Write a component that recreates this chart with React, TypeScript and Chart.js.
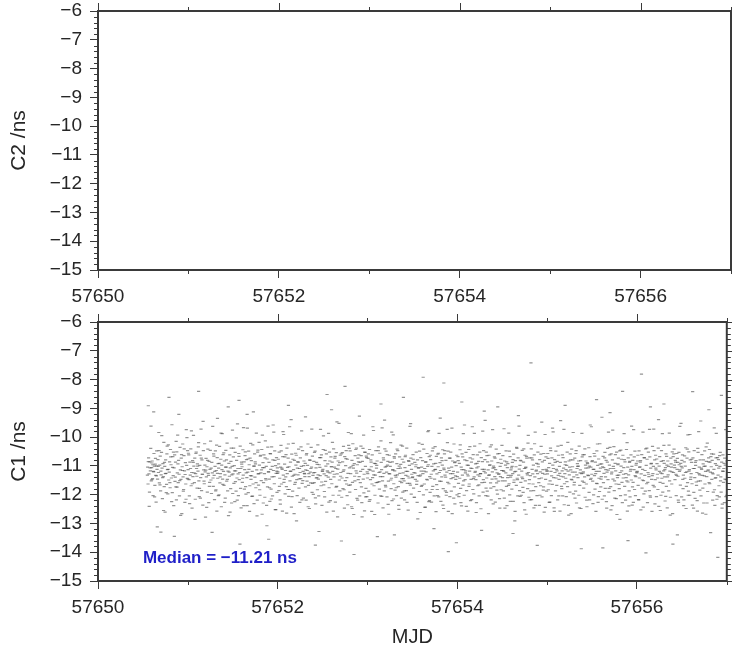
import { useEffect, useRef } from "react";
import { Chart, registerables } from "chart.js";

Chart.register(...registerables);

const X_MIN = 57650;
const X_MAX = 57657;
const Y_MIN = -15;
const Y_MAX = -6;
const X_TICKS = [57650, 57652, 57654, 57656];
const X_MINOR = [57651, 57653, 57655, 57657];
const Y_TICKS = [-6, -7, -8, -9, -10, -11, -12, -13, -14, -15];
const TOP_TITLE = "C2 /ns";
const BOTTOM_TITLE = "C1 /ns";
const X_TITLE = "MJD";
const MEDIAN_LABEL = "Median = \u221211.21 ns";
const MEDIAN_POS = [57650.5, -14.2];

// C2 has no samples in this interval
const c2Points: [number, number][] = [];

// C1 samples: [fraction of day, ns]; day start MJD in DAY_BASES
const DAY_BASES = [57650, 57651, 57652, 57653, 57654, 57655, 57656];

const c1Day0a: [number, number][] = [
  [.55,-11.32],[.56,-10.85],[.57,-12.41],[.58,-11.07],[.59,-9.62],[.60,-11.48],[.61,-10.96],[.62,-11.21],[.63,-12.08],[.64,-10.74],
  [.65,-11.35],[.66,-13.12],[.67,-11.02],[.68,-10.47],[.69,-11.66],[.70,-11.18],[.71,-9.95],[.72,-11.41],[.73,-12.55],[.74,-10.88],
  [.75,-11.27],[.76,-11.93],[.77,-10.31],[.78,-11.12],[.79,-8.62],[.80,-11.58],[.81,-10.69],[.82,-12.24],[.83,-11.05],[.84,-10.52],
  [.85,-13.45],[.86,-11.39],[.87,-10.15],[.88,-11.74],[.89,-10.93],[.90,-9.21],[.91,-11.51],[.92,-12.72],[.93,-10.61],[.94,-11.16],
  [.95,-11.88],[.96,-10.41],[.97,-11.30],[.98,-12.16],[.99,-10.02],[.56,-8.91],[.62,-9.12],[.70,-13.3],[.60,-10.9],[.65,-11.0],
];
const c1Day0b: [number, number][] = [
  [.553,-11.04],[.557,-11.63],[.563,-10.72],[.567,-11.28],[.573,-11.91],[.577,-10.86],[.583,-11.17],[.587,-10.39],[.593,-11.52],[.597,-11.06],
  [.603,-10.83],[.607,-11.44],[.613,-12.03],[.617,-11.19],[.623,-10.57],[.627,-11.01],[.633,-11.68],[.637,-10.94],[.643,-11.33],[.647,-12.26],
  [.653,-10.48],[.657,-11.12],[.663,-11.46],[.667,-10.78],[.673,-11.23],[.677,-9.84],[.683,-11.59],[.687,-10.97],[.693,-10.66],[.697,-11.87],
  [.703,-11.31],[.707,-10.53],[.713,-11.08],[.717,-12.14],[.723,-10.92],[.727,-11.37],[.733,-10.18],[.737,-11.72],[.743,-11.02],[.747,-12.61],
  [.753,-10.79],[.757,-11.26],[.763,-11.64],[.767,-10.58],[.773,-11.13],[.777,-11.97],[.783,-10.27],[.787,-11.49],[.793,-11.22],[.797,-10.86],
  [.803,-11.76],[.807,-10.43],[.813,-10.96],[.817,-11.42],[.823,-9.57],[.827,-11.93],[.833,-10.68],[.837,-11.34],[.843,-12.38],[.847,-11.07],
  [.853,-10.62],[.857,-11.54],[.863,-10.87],[.867,-11.73],[.873,-12.18],[.877,-10.51],[.883,-11.24],[.887,-9.93],[.893,-11.58],[.897,-10.81],
  [.903,-11.29],[.907,-12.04],[.913,-10.36],[.917,-11.14],[.923,-11.47],[.927,-10.73],[.933,-12.66],[.937,-11.03],[.943,-10.24],[.947,-11.38],
  [.953,-11.82],[.957,-10.64],[.963,-11.17],[.967,-12.27],[.973,-10.89],[.977,-11.63],[.983,-9.74],[.987,-10.98],[.993,-11.43],[.997,-10.47],
];

const c1Day1a: [number, number][] = [
  [.00,-11.45],[.01,-10.62],[.02,-12.31],[.03,-11.09],[.04,-9.78],[.05,-11.62],[.06,-10.88],[.07,-11.24],[.08,-12.86],[.09,-10.57],
  [.10,-11.36],[.11,-11.01],[.12,-10.19],[.13,-11.78],[.14,-12.12],[.15,-10.73],[.16,-11.29],[.17,-9.45],[.18,-11.53],[.19,-10.97],
  [.20,-11.15],[.21,-12.44],[.22,-10.81],[.23,-11.33],[.24,-11.71],[.25,-10.46],[.26,-11.08],[.27,-13.31],[.28,-11.42],[.29,-10.66],
  [.30,-11.19],[.31,-11.87],[.32,-10.28],[.33,-11.26],[.34,-12.03],[.35,-10.91],[.36,-11.38],[.37,-9.86],[.38,-11.13],[.39,-11.64],
  [.40,-10.55],[.41,-12.27],[.42,-11.04],[.43,-10.79],[.44,-11.47],[.45,-8.95],[.46,-11.22],[.47,-12.61],[.48,-10.84],[.49,-11.31],
  [.50,-11.96],[.51,-10.38],[.52,-11.17],[.53,-11.55],[.54,-10.03],[.55,-12.19],[.56,-11.28],[.57,-10.67],[.58,-13.72],[.59,-11.09],
  [.60,-10.94],[.61,-11.43],[.62,-9.67],[.63,-11.81],[.64,-10.51],[.65,-11.24],[.66,-12.38],[.67,-10.76],[.68,-11.12],[.69,-11.69],
  [.70,-10.22],[.71,-11.35],[.72,-12.05],[.73,-9.12],[.74,-11.01],[.75,-10.86],[.76,-11.58],[.77,-12.74],[.78,-10.45],[.79,-11.27],
  [.80,-11.83],[.81,-10.63],[.82,-11.14],[.83,-9.93],[.84,-12.29],[.85,-11.06],[.86,-10.72],[.87,-11.49],[.88,-13.08],[.89,-10.35],
  [.90,-11.21],[.91,-11.76],[.92,-10.58],[.93,-12.15],[.94,-11.02],[.95,-9.58],[.96,-11.37],[.97,-10.81],[.98,-12.52],[.99,-11.18],
  [.12,-8.41],[.57,-8.72],[.90,-13.55],[.33,-9.35],[.66,-9.21],
];
const c1Day1b: [number, number][] = [
  [.003,-11.13],[.007,-10.56],[.013,-11.48],[.017,-12.04],[.023,-10.87],[.027,-11.32],[.033,-10.41],[.037,-11.69],[.043,-11.23],[.047,-12.47],[.053,-10.82],[.057,-11.37],[.063,-9.94],[.067,-11.01],[.073,-11.58],[.077,-10.73],[.083,-12.16],[.087,-11.27],[.093,-10.52],[.097,-11.09],
  [.103,-11.77],[.107,-10.93],[.113,-11.18],[.117,-10.34],[.123,-11.52],[.127,-12.07],[.133,-10.98],[.137,-10.63],[.143,-11.41],[.147,-9.72],[.153,-11.86],[.157,-10.79],[.163,-11.29],[.167,-12.36],[.173,-10.47],[.177,-11.14],[.183,-11.62],[.187,-10.23],[.193,-11.21],[.197,-12.78],
  [.203,-10.74],[.207,-11.38],[.213,-11.03],[.217,-11.91],[.223,-10.42],[.227,-11.26],[.233,-12.28],[.237,-10.84],[.243,-11.57],[.247,-11.12],[.253,-10.14],[.257,-11.49],[.263,-11.96],[.267,-10.88],[.273,-11.24],[.277,-9.63],[.283,-11.71],[.287,-10.58],[.293,-11.33],[.297,-12.17],
  [.303,-11.02],[.307,-10.48],[.313,-11.83],[.317,-11.16],[.323,-12.57],[.327,-10.71],[.333,-11.43],[.337,-10.92],[.343,-11.08],[.347,-12.01],[.353,-10.32],[.357,-11.59],[.363,-11.27],[.367,-10.77],[.373,-12.42],[.377,-10.97],[.383,-9.88],[.387,-11.46],[.393,-10.61],[.397,-11.19],
  [.403,-11.68],[.407,-10.83],[.413,-11.31],[.417,-12.12],[.423,-10.46],[.427,-11.04],[.433,-11.53],[.437,-10.21],[.443,-11.87],[.447,-11.18],[.453,-12.73],[.457,-10.91],[.463,-11.36],[.467,-10.62],[.473,-11.07],[.477,-11.79],[.483,-10.38],[.487,-12.29],[.493,-11.02],[.497,-9.76],
  [.503,-11.28],[.507,-10.69],[.513,-11.61],[.517,-10.99],[.523,-12.24],[.527,-10.53],[.533,-11.17],[.537,-11.88],[.543,-10.81],[.547,-11.42],[.553,-9.54],[.557,-11.09],[.563,-12.03],[.567,-10.57],[.573,-11.48],[.577,-11.23],[.583,-10.31],[.587,-11.78],[.593,-12.46],[.597,-10.87],
  [.603,-11.03],[.607,-11.57],[.613,-10.44],[.617,-11.32],[.623,-12.38],[.627,-10.86],[.633,-11.13],[.637,-10.64],[.643,-11.72],[.647,-11.98],[.653,-10.78],[.657,-11.41],[.663,-9.69],[.667,-11.22],[.673,-11.93],[.677,-10.49],[.683,-10.96],[.687,-12.58],[.693,-10.73],[.697,-11.34],
  [.703,-11.47],[.707,-10.82],[.713,-12.06],[.717,-11.19],[.723,-10.27],[.727,-11.63],[.733,-11.01],[.737,-12.31],[.743,-10.58],[.747,-11.39],[.753,-10.93],[.757,-11.76],[.763,-9.86],[.767,-11.14],[.773,-12.19],[.777,-10.52],[.783,-11.28],[.787,-11.67],[.793,-10.18],[.797,-10.97],
  [.803,-12.02],[.807,-10.66],[.813,-11.24],[.817,-11.51],[.823,-10.43],[.827,-12.68],[.833,-11.06],[.837,-10.89],[.843,-11.58],[.847,-10.62],[.853,-11.27],[.857,-12.09],[.863,-10.13],[.867,-11.44],[.873,-11.02],[.877,-12.37],[.883,-10.76],[.887,-11.73],[.893,-9.62],[.897,-11.21],
  [.903,-10.88],[.907,-11.46],[.913,-12.23],[.917,-10.57],[.923,-11.12],[.927,-11.81],[.933,-10.34],[.937,-11.38],[.943,-12.04],[.947,-10.79],[.953,-11.16],[.957,-9.83],[.963,-11.62],[.967,-10.48],[.973,-12.52],[.977,-10.99],[.983,-11.26],[.987,-10.71],[.993,-11.92],[.997,-11.07],
];

const c1Day2a: [number, number][] = [
  [.00,-11.26],[.01,-10.93],[.02,-11.71],[.03,-12.33],[.04,-10.48],[.05,-11.12],[.06,-9.81],[.07,-11.57],[.08,-10.69],[.09,-11.38],
  [.10,-12.64],[.11,-11.05],[.12,-10.24],[.13,-11.82],[.14,-11.19],[.15,-9.39],[.16,-12.07],[.17,-10.77],[.18,-11.33],[.19,-11.64],
  [.20,-10.56],[.21,-12.91],[.22,-11.08],[.23,-10.87],[.24,-11.45],[.25,-11.23],[.26,-10.34],[.27,-12.18],[.28,-11.51],[.29,-10.99],
  [.30,-11.28],[.31,-11.73],[.32,-10.62],[.33,-11.16],[.34,-12.42],[.35,-11.37],[.36,-10.81],[.37,-11.09],[.38,-9.72],[.39,-11.61],
  [.40,-11.24],[.41,-10.53],[.42,-12.11],[.43,-11.42],[.44,-10.95],[.45,-11.31],[.46,-13.28],[.47,-11.05],[.48,-10.71],[.49,-11.56],
  [.50,-11.18],[.51,-9.96],[.52,-11.89],[.53,-10.46],[.54,-11.34],[.55,-8.52],[.56,-11.22],[.57,-12.26],[.58,-10.83],[.59,-11.47],
  [.60,-11.03],[.61,-10.18],[.62,-12.57],[.63,-11.29],[.64,-10.67],[.65,-11.74],[.66,-9.47],[.67,-11.11],[.68,-12.02],[.69,-10.89],
  [.70,-11.36],[.71,-13.61],[.72,-10.54],[.73,-11.19],[.74,-11.83],[.75,-8.24],[.76,-10.75],[.77,-11.41],[.78,-12.35],[.79,-10.29],
  [.80,-11.07],[.81,-11.66],[.82,-9.88],[.83,-12.48],[.84,-10.98],[.85,-14.08],[.86,-11.52],[.87,-10.43],[.88,-11.25],[.89,-12.19],
  [.90,-10.86],[.91,-9.27],[.92,-11.58],[.93,-10.64],[.94,-12.77],[.95,-10.39],[.96,-11.94],[.97,-10.52],[.98,-12.08],[.99,-10.71],
  [.12,-8.90],[.42,-13.75],[.60,-9.05],[.31,-9.30],
];
const c1Day2b: [number, number][] = [
  [.003,-11.21],[.007,-10.77],[.013,-11.86],[.017,-10.52],[.023,-11.43],[.027,-12.18],[.033,-11.04],[.037,-10.29],[.043,-11.63],[.047,-11.08],[.053,-12.57],[.057,-10.68],[.063,-11.32],[.067,-9.91],[.073,-11.47],[.077,-10.94],[.083,-11.97],[.087,-11.16],[.093,-10.61],[.097,-11.72],
  [.103,-10.38],[.107,-11.27],[.113,-11.82],[.117,-10.73],[.123,-12.06],[.127,-11.03],[.133,-9.64],[.137,-11.52],[.143,-10.87],[.147,-11.18],[.153,-12.43],[.157,-10.59],[.163,-11.36],[.167,-11.88],[.173,-10.22],[.177,-11.13],[.183,-12.66],[.187,-10.81],[.193,-11.29],[.197,-11.57],
  [.203,-10.97],[.207,-10.63],[.213,-11.48],[.217,-12.03],[.223,-10.86],[.227,-11.31],[.233,-10.42],[.237,-11.77],[.243,-11.09],[.247,-12.27],[.253,-10.72],[.257,-11.44],[.263,-11.02],[.267,-9.78],[.273,-11.61],[.277,-10.47],[.283,-11.19],[.287,-12.12],[.293,-10.83],[.297,-11.26],
  [.303,-11.37],[.307,-10.91],[.313,-11.14],[.317,-12.19],[.323,-10.57],[.327,-11.53],[.333,-10.98],[.337,-10.24],[.343,-11.68],[.347,-11.27],[.353,-12.48],[.357,-10.79],[.363,-11.22],[.367,-11.59],[.373,-10.36],[.377,-11.04],[.383,-11.92],[.387,-10.66],[.393,-11.33],[.397,-11.99],
  [.403,-10.84],[.407,-11.58],[.413,-11.23],[.417,-10.49],[.423,-12.32],[.427,-11.07],[.433,-10.88],[.437,-11.41],[.443,-11.83],[.447,-10.27],[.453,-11.46],[.457,-12.04],[.463,-10.96],[.467,-10.71],[.473,-11.34],[.477,-9.73],[.483,-11.69],[.487,-10.62],[.493,-12.37],[.497,-11.18],
  [.503,-11.12],[.507,-10.43],[.513,-11.66],[.517,-11.28],[.523,-12.08],[.527,-10.82],[.533,-11.54],[.537,-11.01],[.543,-10.58],[.547,-12.61],[.553,-11.17],[.557,-10.93],[.563,-11.39],[.567,-9.87],[.573,-11.76],[.577,-10.52],[.583,-11.24],[.587,-12.21],[.593,-10.69],[.597,-11.03],
  [.603,-11.62],[.607,-10.87],[.613,-11.19],[.617,-12.02],[.623,-10.41],[.627,-11.38],[.633,-11.04],[.637,-10.73],[.643,-12.26],[.647,-11.09],[.653,-10.54],[.657,-11.71],[.663,-11.28],[.667,-12.77],[.673,-10.83],[.677,-10.97],[.683,-9.52],[.687,-11.49],[.693,-11.87],[.697,-10.63],
  [.703,-11.23],[.707,-10.58],[.713,-12.09],[.717,-11.42],[.723,-10.86],[.727,-11.79],[.733,-10.32],[.737,-11.14],[.743,-12.47],[.747,-10.68],[.753,-11.51],[.757,-10.99],[.763,-10.47],[.767,-11.63],[.773,-12.03],[.777,-10.77],[.783,-11.26],[.787,-9.84],[.793,-11.68],[.797,-10.39],
  [.803,-11.91],[.807,-10.48],[.813,-11.27],[.817,-11.03],[.823,-12.42],[.827,-10.81],[.833,-11.57],[.837,-10.23],[.843,-11.08],[.847,-12.69],[.853,-10.92],[.857,-11.36],[.863,-10.64],[.867,-11.82],[.873,-11.17],[.877,-10.38],[.883,-12.13],[.887,-10.96],[.893,-10.73],[.897,-11.48],
  [.903,-10.62],[.907,-11.37],[.913,-12.04],[.917,-10.88],[.923,-11.19],[.927,-10.31],[.933,-11.73],[.937,-12.28],[.943,-10.84],[.947,-11.12],[.953,-11.46],[.957,-9.93],[.963,-11.29],[.967,-12.56],[.973,-10.53],[.977,-11.02],[.983,-11.78],[.987,-10.66],[.993,-12.07],[.997,-11.21],
];

const c1Day3a: [number, number][] = [
  [.00,-11.42],[.01,-10.58],[.02,-12.23],[.03,-11.15],[.04,-10.87],[.05,-11.63],[.06,-9.64],[.07,-11.31],[.08,-12.69],[.09,-10.92],
  [.10,-11.08],[.11,-13.46],[.12,-10.47],[.13,-11.55],[.14,-11.21],[.15,-10.13],[.16,-12.06],[.17,-11.37],[.18,-10.79],[.19,-9.41],
  [.20,-11.68],[.21,-11.02],[.22,-10.61],[.23,-12.34],[.24,-11.27],[.25,-10.88],[.26,-11.49],[.27,-9.83],[.28,-11.14],[.29,-12.15],
  [.30,-10.73],[.31,-11.33],[.32,-11.76],[.33,-10.42],[.34,-11.09],[.35,-12.51],[.36,-11.26],[.37,-10.95],[.38,-11.58],[.39,-10.31],
  [.40,-11.44],[.41,-11.87],[.42,-10.68],[.43,-11.19],[.44,-12.27],[.45,-11.36],[.46,-10.84],[.47,-11.61],[.48,-9.53],[.49,-11.12],
  [.50,-11.41],[.51,-10.77],[.52,-12.09],[.53,-11.25],[.54,-10.96],[.55,-11.53],[.56,-12.84],[.57,-11.07],[.58,-10.49],[.59,-11.32],
  [.60,-11.71],[.61,-10.25],[.62,-7.92],[.63,-11.18],[.64,-12.44],[.65,-10.86],[.66,-11.47],[.67,-11.02],[.68,-9.77],[.69,-12.21],
  [.70,-10.63],[.71,-11.29],[.72,-11.82],[.73,-10.38],[.74,-13.18],[.75,-11.13],[.76,-10.91],[.77,-11.65],[.78,-12.03],[.79,-10.56],
  [.80,-11.23],[.81,-9.34],[.82,-11.54],[.83,-10.82],[.84,-12.36],[.85,-11.08],[.86,-10.47],[.87,-11.39],[.88,-11.92],[.89,-10.19],
  [.90,-12.58],[.91,-11.16],[.92,-10.73],[.93,-11.44],[.94,-9.69],[.95,-11.27],[.96,-12.12],[.97,-10.89],[.98,-11.35],[.99,-13.67],
  [.15,-8.85],[.40,-8.62],[.85,-8.12],[.30,-13.40],
];
const c1Day3b: [number, number][] = [
  [.003,-11.27],[.007,-10.74],[.013,-11.88],[.017,-11.12],[.023,-10.43],[.027,-12.17],[.033,-11.48],[.037,-10.79],[.043,-11.03],[.047,-12.58],[.053,-10.62],[.057,-11.41],[.063,-11.18],[.067,-9.77],[.073,-11.69],[.077,-10.91],[.083,-12.02],[.087,-11.32],[.093,-10.47],[.097,-11.58],
  [.103,-10.98],[.107,-10.83],[.113,-11.57],[.117,-12.29],[.123,-10.34],[.127,-11.23],[.133,-11.81],[.137,-10.56],[.143,-11.37],[.147,-12.04],[.153,-10.88],[.157,-11.13],[.163,-9.68],[.167,-11.52],[.173,-12.46],[.177,-10.72],[.183,-11.26],[.187,-11.87],[.193,-10.41],[.197,-11.04],
  [.203,-11.73],[.207,-10.49],[.213,-11.22],[.217,-12.08],[.223,-10.97],[.227,-10.84],[.233,-11.53],[.237,-12.68],[.243,-10.63],[.247,-11.28],[.253,-11.02],[.257,-10.19],[.263,-11.79],[.267,-11.43],[.273,-12.21],[.277,-10.86],[.283,-11.14],[.287,-9.92],[.293,-11.62],[.297,-10.68],
  [.303,-11.17],[.307,-11.84],[.313,-10.58],[.317,-11.39],[.323,-12.03],[.327,-10.92],[.333,-11.31],[.337,-10.47],[.343,-11.72],[.347,-12.37],[.353,-11.01],[.357,-10.69],[.363,-11.54],[.367,-11.08],[.373,-10.28],[.377,-12.12],[.383,-11.44],[.387,-10.77],[.393,-11.91],[.397,-11.24],
  [.403,-10.87],[.407,-11.52],[.413,-12.18],[.417,-11.06],[.423,-10.63],[.427,-11.33],[.433,-11.86],[.437,-10.38],[.443,-11.61],[.447,-11.19],[.453,-12.54],[.457,-10.82],[.463,-11.42],[.467,-10.98],[.473,-9.63],[.477,-11.67],[.483,-10.73],[.487,-11.98],[.493,-11.29],[.497,-10.93],
  [.503,-11.38],[.507,-10.61],[.513,-11.77],[.517,-11.23],[.523,-12.09],[.527,-10.88],[.533,-11.47],[.537,-11.03],[.543,-10.52],[.547,-11.64],[.553,-12.27],[.557,-10.79],[.563,-11.34],[.567,-11.07],[.573,-10.21],[.577,-11.89],[.583,-11.36],[.587,-12.62],[.593,-10.71],[.597,-11.18],
  [.603,-11.04],[.607,-11.68],[.613,-10.82],[.617,-11.27],[.623,-12.01],[.627,-10.42],[.633,-11.63],[.637,-11.09],[.643,-12.43],[.647,-10.87],[.653,-11.21],[.657,-11.83],[.663,-10.57],[.667,-11.49],[.673,-9.81],[.677,-10.96],[.683,-12.24],[.687,-10.68],[.693,-11.37],[.697,-11.92],
  [.703,-10.78],[.707,-11.43],[.713,-12.26],[.717,-11.02],[.723,-10.48],[.727,-11.71],[.733,-11.17],[.737,-10.93],[.743,-12.04],[.747,-11.46],[.753,-10.33],[.757,-11.12],[.763,-12.59],[.767,-10.67],[.773,-11.28],[.777,-11.82],[.783,-10.59],[.787,-11.03],[.793,-12.08],[.797,-9.87],
  [.803,-11.53],[.807,-10.89],[.813,-11.16],[.817,-12.23],[.823,-10.72],[.827,-11.38],[.833,-10.97],[.837,-10.44],[.843,-11.79],[.847,-12.48],[.853,-11.13],[.857,-10.58],[.863,-11.32],[.867,-11.87],[.873,-10.81],[.877,-12.02],[.883,-11.22],[.887,-9.73],[.893,-11.57],[.897,-10.49],
  [.903,-11.08],[.907,-11.62],[.913,-10.73],[.917,-12.07],[.923,-11.27],[.927,-10.52],[.933,-11.88],[.937,-11.04],[.943,-12.66],[.947,-10.83],[.953,-11.41],[.957,-11.19],[.963,-10.24],[.967,-11.73],[.973,-12.32],[.977,-10.86],[.983,-11.47],[.987,-10.99],[.993,-10.63],[.997,-12.01],
];

const c1Day4a: [number, number][] = [
  [.00,-11.37],[.01,-10.82],[.02,-11.96],[.03,-10.44],[.04,-12.28],[.05,-11.13],[.06,-10.69],[.07,-11.52],[.08,-9.58],[.09,-11.24],
  [.10,-12.41],[.11,-10.97],[.12,-11.35],[.13,-11.71],[.14,-10.33],[.15,-11.08],[.16,-12.17],[.17,-10.76],[.18,-11.44],[.19,-9.87],
  [.20,-11.19],[.21,-12.62],[.22,-10.91],[.23,-11.31],[.24,-11.66],[.25,-10.52],[.26,-11.27],[.27,-13.24],[.28,-10.85],[.29,-11.48],
  [.30,-11.12],[.31,-9.42],[.32,-11.77],[.33,-10.64],[.34,-12.05],[.35,-11.33],[.36,-10.98],[.37,-11.59],[.38,-10.27],[.39,-11.21],
  [.40,-12.32],[.41,-11.06],[.42,-10.73],[.43,-11.45],[.44,-11.84],[.45,-10.58],[.46,-11.29],[.47,-12.14],[.48,-11.37],[.49,-10.91],
  [.50,-11.52],[.51,-11.16],[.52,-9.71],[.53,-12.47],[.54,-11.24],[.55,-10.86],[.56,-11.41],[.57,-11.68],[.58,-10.49],[.59,-12.23],
  [.60,-11.33],[.61,-11.02],[.62,-10.78],[.63,-11.57],[.64,-12.91],[.65,-11.19],[.66,-10.36],[.67,-11.48],[.68,-9.25],[.69,-11.11],
  [.70,-12.06],[.71,-10.83],[.72,-11.39],[.73,-11.75],[.74,-10.41],[.75,-12.53],[.76,-11.07],[.77,-10.67],[.78,-11.31],[.79,-9.94],
  [.80,-11.62],[.81,-12.18],[.82,-7.42],[.83,-10.72],[.84,-11.28],[.85,-11.86],[.86,-10.23],[.87,-12.37],[.88,-11.15],[.89,-13.76],
  [.90,-10.94],[.91,-11.44],[.92,-12.02],[.93,-10.59],[.94,-9.48],[.95,-11.26],[.96,-11.73],[.97,-10.81],[.98,-12.44],[.99,-11.12],
  [.05,-8.78],[.45,-8.95],[.62,-13.35],[.30,-9.10],[-.10,-13.98],
];
const c1Day4b: [number, number][] = [
  [.003,-11.22],[.007,-10.68],[.013,-11.61],[.017,-12.07],[.023,-10.91],[.027,-11.43],[.033,-10.27],[.037,-11.78],[.043,-11.04],[.047,-12.39],[.053,-10.58],[.057,-11.32],[.063,-11.67],[.067,-9.88],[.073,-11.13],[.077,-12.02],[.083,-10.79],[.087,-11.48],[.093,-11.17],[.097,-10.53],
  [.103,-11.86],[.107,-10.82],[.113,-11.29],[.117,-12.57],[.123,-10.98],[.127,-10.43],[.133,-11.63],[.137,-11.18],[.143,-10.72],[.147,-12.21],[.153,-11.47],[.157,-10.87],[.163,-11.09],[.167,-9.64],[.173,-11.82],[.177,-10.61],[.183,-11.97],[.187,-11.38],[.193,-10.31],[.197,-11.23],
  [.203,-10.93],[.207,-11.48],[.213,-12.28],[.217,-11.07],[.223,-10.62],[.227,-11.69],[.233,-11.03],[.237,-10.84],[.243,-12.04],[.247,-11.36],[.253,-10.23],[.257,-11.27],[.263,-12.49],[.267,-10.71],[.273,-11.58],[.277,-11.12],[.283,-9.79],[.287,-11.91],[.293,-10.47],[.297,-11.19],
  [.303,-11.57],[.307,-10.78],[.313,-11.24],[.317,-12.03],[.323,-10.52],[.327,-11.42],[.333,-11.88],[.337,-10.86],[.343,-11.14],[.347,-12.66],[.353,-10.63],[.357,-11.31],[.363,-10.96],[.367,-10.34],[.373,-11.77],[.377,-12.18],[.383,-10.83],[.387,-11.46],[.393,-9.74],[.397,-11.08],
  [.403,-11.01],[.407,-11.72],[.413,-10.69],[.417,-11.37],[.423,-12.26],[.427,-11.13],[.433,-10.42],[.437,-11.59],[.443,-11.24],[.447,-11.98],[.453,-10.89],[.457,-11.53],[.463,-11.28],[.467,-10.57],[.473,-12.47],[.477,-11.02],[.483,-10.77],[.487,-11.83],[.493,-11.16],[.497,-10.29],
  [.503,-11.41],[.507,-10.64],[.513,-11.87],[.517,-11.19],[.523,-12.12],[.527,-10.83],[.533,-11.52],[.537,-10.97],[.543,-10.48],[.547,-11.71],[.553,-12.38],[.557,-11.06],[.563,-10.92],[.567,-11.33],[.573,-9.86],[.577,-11.62],[.583,-12.01],[.587,-10.68],[.593,-11.39],[.597,-11.14],
  [.603,-11.07],[.607,-11.81],[.613,-10.88],[.617,-11.27],[.623,-12.23],[.627,-10.59],[.633,-11.49],[.637,-11.21],[.643,-12.58],[.647,-10.82],[.653,-11.03],[.657,-11.68],[.663,-10.39],[.667,-11.43],[.673,-12.04],[.677,-10.72],[.683,-11.32],[.687,-9.62],[.693,-11.86],[.697,-10.98],
  [.703,-10.81],[.707,-11.57],[.713,-12.02],[.717,-11.18],[.723,-10.46],[.727,-11.44],[.733,-11.92],[.737,-10.87],[.743,-12.28],[.747,-11.09],[.753,-10.63],[.757,-11.52],[.763,-11.04],[.767,-12.68],[.773,-10.73],[.777,-11.26],[.783,-11.79],[.787,-10.21],[.793,-11.23],[.797,-12.09],
  [.803,-11.48],[.807,-10.72],[.813,-11.34],[.817,-11.87],[.823,-10.41],[.827,-12.17],[.833,-11.12],[.837,-10.79],[.843,-11.63],[.847,-10.97],[.853,-12.46],[.857,-10.62],[.863,-11.38],[.867,-9.83],[.873,-11.72],[.877,-11.18],[.883,-10.91],[.887,-12.03],[.893,-11.27],[.897,-10.52],
  [.903,-11.03],[.907,-11.58],[.913,-12.37],[.917,-10.78],[.923,-11.21],[.927,-11.69],[.933,-10.32],[.937,-11.42],[.943,-12.08],[.947,-10.86],[.953,-11.13],[.957,-11.84],[.963,-10.57],[.967,-12.61],[.973,-11.29],[.977,-9.91],[.983,-11.47],[.987,-10.69],[.993,-11.88],[.997,-11.17],
];

const c1Day5a: [number, number][] = [
  [.00,-11.18],[.01,-10.74],[.02,-11.63],[.03,-12.26],[.04,-10.47],[.05,-11.35],[.06,-9.69],[.07,-11.09],[.08,-12.58],[.09,-10.88],
  [.10,-11.42],[.11,-11.17],[.12,-10.31],[.13,-12.04],[.14,-11.26],[.15,-9.43],[.16,-11.71],[.17,-10.62],[.18,-11.38],[.19,-12.35],
  [.20,-10.96],[.21,-11.13],[.22,-11.55],[.23,-10.18],[.24,-12.71],[.25,-11.04],[.26,-10.79],[.27,-11.47],[.28,-11.22],[.29,-9.84],
  [.30,-11.66],[.31,-12.12],[.32,-10.57],[.33,-11.31],[.34,-11.02],[.35,-10.83],[.36,-12.46],[.37,-11.14],[.38,-13.88],[.39,-10.69],
  [.40,-11.25],[.41,-11.57],[.42,-10.41],[.43,-11.08],[.44,-12.19],[.45,-10.92],[.46,-11.34],[.47,-11.01],[.48,-9.58],[.49,-11.43],
  [.50,-10.85],[.51,-12.31],[.52,-11.12],[.53,-10.66],[.54,-11.27],[.55,-11.61],[.56,-10.24],[.57,-12.07],[.58,-11.19],[.59,-10.94],
  [.60,-11.46],[.61,-9.31],[.62,-13.85],[.63,-11.06],[.64,-10.72],[.65,-11.38],[.66,-12.24],[.67,-10.87],[.68,-11.15],[.69,-11.78],
  [.70,-10.36],[.71,-12.53],[.72,-11.22],[.73,-9.76],[.74,-11.09],[.75,-11.52],[.76,-10.61],[.77,-12.14],[.78,-11.33],[.79,-10.93],
  [.80,-11.64],[.81,-12.86],[.82,-10.45],[.83,-11.17],[.84,-8.41],[.85,-11.29],[.86,-10.78],[.87,-12.01],[.88,-11.41],[.89,-10.19],
  [.90,-11.56],[.91,-12.39],[.92,-10.84],[.93,-11.12],[.94,-9.62],[.95,-11.73],[.96,-12.27],[.97,-10.69],[.98,-11.34],[.99,-10.97],
  [.20,-8.90],[.55,-8.70],[.70,-9.15],[.90,-13.60],
];
const c1Day5b: [number, number][] = [
  [.003,-11.28],[.007,-10.57],[.013,-11.83],[.017,-11.06],[.023,-12.27],[.027,-10.91],[.033,-11.52],[.037,-10.38],[.043,-11.19],[.047,-12.03],[.053,-10.72],[.057,-11.64],[.063,-10.97],[.067,-9.82],[.073,-11.41],[.077,-12.46],[.083,-10.78],[.087,-11.23],[.093,-11.87],[.097,-10.49],
  [.103,-11.12],[.107,-11.68],[.113,-10.84],[.117,-12.18],[.123,-11.33],[.127,-10.63],[.133,-11.47],[.137,-11.02],[.143,-12.57],[.147,-10.88],[.153,-11.36],[.157,-10.29],[.163,-11.79],[.167,-11.17],[.173,-12.04],[.177,-10.71],[.183,-11.08],[.187,-9.73],[.193,-11.62],[.197,-11.27],
  [.203,-10.86],[.207,-11.43],[.213,-12.07],[.217,-10.98],[.223,-10.52],[.227,-11.72],[.233,-11.18],[.237,-12.37],[.243,-10.83],[.247,-11.31],[.253,-11.91],[.257,-10.58],[.263,-11.14],[.267,-12.66],[.273,-10.42],[.277,-11.49],[.283,-11.03],[.287,-10.79],[.293,-11.97],[.297,-11.38],
  [.303,-11.57],[.307,-10.73],[.313,-11.22],[.317,-11.88],[.323,-10.47],[.327,-12.29],[.333,-11.09],[.337,-10.92],[.343,-11.41],[.347,-11.01],[.353,-12.02],[.357,-10.31],[.363,-11.68],[.367,-11.24],[.373,-10.82],[.377,-12.48],[.383,-11.27],[.387,-9.87],[.393,-11.53],[.397,-10.62],
  [.403,-11.21],[.407,-11.77],[.413,-10.61],[.417,-11.38],[.423,-12.09],[.427,-10.97],[.433,-10.83],[.437,-11.63],[.443,-12.42],[.447,-10.89],[.453,-11.32],[.457,-11.07],[.463,-10.37],[.467,-11.92],[.473,-12.18],[.477,-10.68],[.483,-11.47],[.487,-11.04],[.493,-9.64],[.497,-11.29],
  [.503,-10.82],[.507,-11.53],[.513,-11.12],[.517,-12.01],[.523,-10.57],[.527,-11.34],[.533,-11.81],[.537,-10.87],[.543,-12.58],[.547,-11.19],[.553,-10.48],[.557,-11.62],[.563,-10.98],[.567,-12.27],[.573,-10.76],[.577,-11.43],[.583,-11.89],[.587,-10.23],[.593,-11.08],[.597,-11.73],
  [.603,-11.37],[.607,-10.93],[.613,-12.16],[.617,-11.03],[.623,-10.67],[.627,-11.58],[.633,-11.26],[.637,-12.04],[.643,-10.53],[.647,-11.78],[.653,-11.13],[.657,-10.81],[.663,-12.47],[.667,-11.22],[.673,-10.39],[.677,-11.48],[.683,-9.83],[.687,-11.91],[.693,-10.97],[.697,-10.62],
  [.703,-11.09],[.707,-11.72],[.713,-10.58],[.717,-11.28],[.723,-12.38],[.727,-10.79],[.733,-11.46],[.737,-11.02],[.743,-10.33],[.747,-11.86],[.753,-12.12],[.757,-10.91],[.763,-11.17],[.767,-11.63],[.773,-10.52],[.777,-12.69],[.783,-11.41],[.787,-10.96],[.793,-10.73],[.797,-11.32],
  [.803,-11.79],[.807,-10.48],[.813,-11.23],[.817,-12.03],[.823,-11.01],[.827,-10.77],[.833,-11.57],[.837,-12.28],[.843,-10.63],[.847,-11.42],[.853,-11.06],[.857,-9.88],[.863,-11.71],[.867,-10.86],[.873,-12.19],[.877,-11.27],[.883,-10.43],[.887,-11.52],[.893,-12.57],[.897,-11.04],
  [.903,-10.72],[.907,-11.31],[.913,-11.87],[.917,-10.88],[.923,-12.08],[.927,-11.18],[.933,-10.62],[.937,-11.49],[.943,-11.02],[.947,-12.36],[.953,-10.81],[.957,-11.57],[.963,-9.74],[.967,-11.13],[.973,-11.82],[.977,-10.49],[.983,-12.03],[.987,-11.37],[.993,-10.91],[.997,-11.22],
];

const c1Day6a: [number, number][] = [
  [.00,-11.24],[.01,-10.63],[.02,-12.18],[.03,-11.05],[.04,-10.82],[.05,-7.81],[.06,-11.49],[.07,-12.43],[.08,-10.71],[.09,-11.16],
  [.10,-14.02],[.11,-10.38],[.12,-11.57],[.13,-11.29],[.14,-9.73],[.15,-12.09],[.16,-10.91],[.17,-11.34],[.18,-11.68],[.19,-10.47],
  [.20,-12.32],[.21,-11.08],[.22,-10.76],[.23,-11.42],[.24,-9.39],[.25,-11.19],[.26,-12.55],[.27,-10.84],[.28,-11.27],[.29,-11.61],
  [.30,-10.29],[.31,-11.13],[.32,-12.06],[.33,-10.67],[.34,-11.38],[.35,-11.02],[.36,-9.86],[.37,-12.71],[.38,-10.93],[.39,-11.21],
  [.40,-13.72],[.41,-10.58],[.42,-11.06],[.43,-10.87],[.44,-11.33],[.45,-10.74],[.46,-12.19],[.47,-10.96],[.48,-11.14],[.49,-9.52],
  [.50,-10.81],[.51,-11.47],[.52,-12.38],[.53,-10.65],[.54,-11.23],[.55,-11.71],[.56,-10.42],[.57,-12.02],[.58,-11.18],[.59,-9.91],
  [.60,-11.39],[.61,-10.77],[.62,-8.42],[.63,-12.47],[.64,-11.09],[.65,-10.88],[.66,-11.56],[.67,-12.21],[.68,-10.53],[.69,-11.27],
  [.70,-11.84],[.71,-9.44],[.72,-11.12],[.73,-12.64],[.74,-10.79],[.75,-11.35],[.76,-11.01],[.77,-10.34],[.78,-12.29],[.79,-11.17],
  [.80,-10.86],[.81,-11.62],[.82,-13.32],[.83,-10.58],[.84,-11.24],[.85,-11.91],[.86,-9.68],[.87,-11.43],[.88,-10.72],[.89,-12.16],
  [.90,-14.18],[.91,-11.08],[.92,-10.64],[.93,-11.52],[.94,-8.55],[.95,-12.33],[.96,-11.19],[.97,-10.91],[.98,-11.46],[.99,-12.07],
  [1.00,-10.83],[.30,-8.85],[.45,-13.40],[.80,-9.05],[.15,-8.95],
];
const c1Day6b: [number, number][] = [
  [.003,-11.19],[.007,-10.83],[.013,-11.68],[.017,-12.17],[.023,-10.48],[.027,-11.42],[.033,-11.03],[.037,-10.87],[.043,-12.53],[.047,-11.28],[.053,-10.61],[.057,-11.77],[.063,-11.12],[.067,-9.83],[.073,-11.51],[.077,-11.97],[.083,-10.72],[.087,-11.33],[.093,-11.88],[.097,-10.41],
  [.103,-10.98],[.107,-11.62],[.113,-10.77],[.117,-12.28],[.123,-11.23],[.127,-10.52],[.133,-11.37],[.137,-11.86],[.143,-10.69],[.147,-12.04],[.153,-11.08],[.157,-10.93],[.163,-11.47],[.167,-12.58],[.173,-10.32],[.177,-11.27],[.183,-11.02],[.187,-9.72],[.193,-11.73],[.197,-10.79],
  [.203,-11.48],[.207,-10.63],[.213,-11.14],[.217,-12.07],[.223,-10.92],[.227,-11.29],[.233,-11.82],[.237,-10.38],[.243,-12.41],[.247,-11.01],[.253,-10.68],[.257,-11.57],[.263,-11.24],[.267,-12.02],[.273,-10.47],[.277,-11.43],[.283,-9.88],[.287,-11.91],[.293,-10.82],[.297,-11.17],
  [.303,-10.91],[.307,-11.38],[.313,-12.22],[.317,-11.06],[.323,-10.58],[.327,-11.71],[.333,-10.97],[.337,-12.46],[.343,-10.83],[.347,-11.31],[.353,-11.87],[.357,-10.28],[.363,-11.52],[.367,-11.18],[.373,-12.09],[.377,-10.73],[.383,-11.04],[.387,-11.63],[.393,-10.51],[.397,-12.66],
  [.403,-10.68],[.407,-11.23],[.413,-10.42],[.417,-10.97],[.423,-11.48],[.427,-10.81],[.433,-11.29],[.437,-12.03],[.443,-10.57],[.447,-11.12],[.453,-10.88],[.457,-11.36],[.463,-12.27],[.467,-10.53],[.473,-11.19],[.477,-9.63],[.483,-11.67],[.487,-10.91],[.493,-11.02],[.497,-12.08],
  [.503,-11.07],[.507,-10.62],[.513,-11.79],[.517,-11.32],[.523,-12.18],[.527,-10.86],[.533,-11.43],[.537,-11.01],[.543,-10.37],[.547,-12.48],[.553,-11.21],[.557,-10.73],[.563,-11.58],[.567,-9.92],[.573,-11.88],[.577,-10.51],[.583,-11.13],[.587,-12.02],[.593,-10.79],[.597,-11.47],
  [.603,-11.27],[.607,-10.88],[.613,-11.62],[.617,-12.36],[.623,-10.72],[.627,-11.09],[.633,-11.92],[.637,-10.47],[.643,-11.41],[.647,-12.13],[.653,-10.98],[.657,-10.82],[.663,-11.68],[.667,-11.23],[.673,-12.57],[.677,-10.39],[.683,-11.53],[.687,-9.81],[.693,-11.04],[.697,-11.31],
  [.703,-10.79],[.707,-11.52],[.713,-12.04],[.717,-11.08],[.723,-10.61],[.727,-11.33],[.733,-11.77],[.737,-10.93],[.743,-12.29],[.747,-11.02],[.753,-10.48],[.757,-11.63],[.763,-11.19],[.767,-12.68],[.773,-10.84],[.777,-11.37],[.783,-10.21],[.787,-11.89],[.793,-11.14],[.797,-10.72],
  [.803,-11.58],[.807,-10.43],[.813,-10.87],[.817,-11.22],[.823,-10.68],[.827,-11.03],[.833,-11.47],[.837,-10.81],[.843,-12.19],[.847,-11.28],[.853,-10.59],[.857,-11.12],[.863,-11.83],[.867,-12.37],[.873,-10.92],[.877,-11.41],[.883,-9.87],[.887,-10.98],[.893,-12.03],[.897,-10.71],
  [.903,-11.32],[.907,-10.78],[.913,-11.69],[.917,-12.08],[.923,-11.02],[.927,-10.53],[.933,-11.38],[.937,-11.91],[.943,-10.87],[.947,-12.47],[.953,-11.18],[.957,-10.62],[.963,-11.57],[.967,-11.09],[.973,-12.28],[.977,-10.73],[.983,-10.97],[.987,-9.74],[.993,-11.48],[.997,-12.02],
];

const C1_DAYS: [number, number][][][] = [
  [c1Day0a, c1Day0b],
  [c1Day1a, c1Day1b],
  [c1Day2a, c1Day2b],
  [c1Day3a, c1Day3b],
  [c1Day4a, c1Day4b],
  [c1Day5a, c1Day5b],
  [c1Day6a, c1Day6b],
];

const FONT = "'Liberation Sans', Arial, Helvetica, sans-serif";
const INK = "#262626";
const FRAME = "#3a3a3a";

const minus = (v: number) => (v < 0 ? "\u2212" + Math.abs(v) : String(v));

function makeFramePlugin(showMedian: boolean) {
  return {
    id: "gmtFrame",
    afterDraw(chart: any) {
      const { ctx, chartArea: a, scales } = chart;
      const xs = scales.x;
      const ys = scales.y;
      ctx.save();
      ctx.strokeStyle = FRAME;
      ctx.lineWidth = 1;
      ctx.beginPath();
      for (const v of X_TICKS) {
        const px = Math.round(xs.getPixelForValue(v)) + 0.5;
        ctx.moveTo(px, a.top);
        ctx.lineTo(px, a.top - 8);
      }
      for (const v of X_MINOR) {
        const px = Math.round(xs.getPixelForValue(v)) + 0.5;
        ctx.moveTo(px, a.top);
        ctx.lineTo(px, a.top - 4);
        ctx.moveTo(px, a.bottom);
        ctx.lineTo(px, a.bottom + 4);
      }
      for (let i = 0; i <= 45; i++) {
        const v = Y_MIN + i * 0.2;
        const py = Math.round(ys.getPixelForValue(v)) + 0.5;
        const major = i % 5 === 0;
        if (!major) {
          ctx.moveTo(a.left, py);
          ctx.lineTo(a.left - 4, py);
        }
        ctx.moveTo(a.right, py);
        ctx.lineTo(a.right + (major ? 8 : 4), py);
      }
      ctx.stroke();
      ctx.lineWidth = 2;
      ctx.strokeRect(a.left, a.top, a.right - a.left, a.bottom - a.top);
      if (showMedian) {
        ctx.fillStyle = "#1f1fc8";
        ctx.font = "bold 17px " + FONT;
        ctx.textBaseline = "middle";
        ctx.textAlign = "left";
        ctx.fillText(
          MEDIAN_LABEL,
          xs.getPixelForValue(MEDIAN_POS[0]),
          ys.getPixelForValue(MEDIAN_POS[1])
        );
      }
      ctx.restore();
    },
  };
}

function makeConfig(
  points: { x: number; y: number }[],
  yTitle: string,
  withXTitle: boolean,
  padTop: number,
  xHeight: number
): any {
  return {
    type: "scatter",
    data: {
      datasets: [
        {
          data: points,
          pointStyle: "line",
          pointRadius: 1.6,
          pointBorderWidth: 1.2,
          pointBorderColor: "rgba(60,60,60,0.55)",
          backgroundColor: "rgba(60,60,60,0.55)",
        },
      ],
    },
    options: {
      animation: false,
      responsive: false,
      devicePixelRatio: 1,
      layout: { padding: { top: padTop, right: 1, left: 0, bottom: 0 } },
      plugins: { legend: { display: false }, tooltip: { enabled: false } },
      events: [],
      scales: {
        x: {
          type: "linear",
          min: X_MIN,
          max: X_MAX,
          afterBuildTicks: (s: any) => {
            s.ticks = X_TICKS.map((value) => ({ value }));
          },
          afterFit: (s: any) => {
            s.height = xHeight;
            s.paddingLeft = 0;
            s.paddingRight = 0;
          },
          grid: {
            display: true,
            drawOnChartArea: false,
            drawTicks: true,
            tickLength: 8,
            color: FRAME,
            lineWidth: 1,
          },
          border: { display: false },
          ticks: {
            color: INK,
            padding: 7,
            maxRotation: 0,
            font: { family: FONT, size: 19 },
            callback: (v: number) => String(v),
          },
          title: {
            display: withXTitle,
            text: X_TITLE,
            color: INK,
            font: { family: FONT, size: 20 },
            padding: { top: 0, bottom: 7 },
          },
        },
        y: {
          type: "linear",
          min: Y_MIN,
          max: Y_MAX,
          afterBuildTicks: (s: any) => {
            s.ticks = Y_TICKS.map((value) => ({ value }));
          },
          afterFit: (s: any) => {
            s.width = 98;
            s.paddingTop = 0;
            s.paddingBottom = 0;
          },
          grid: {
            display: true,
            drawOnChartArea: false,
            drawTicks: true,
            tickLength: 8,
            color: FRAME,
            lineWidth: 1,
          },
          border: { display: false },
          ticks: {
            color: INK,
            padding: 8,
            font: { family: FONT, size: 19 },
            callback: (v: number) => minus(v),
          },
          title: {
            display: true,
            text: yTitle,
            color: INK,
            font: { family: FONT, size: 21 },
            padding: { top: 7, bottom: 0 },
          },
        },
      },
    },
  };
}

export default function App() {
  const topRef = useRef<HTMLCanvasElement | null>(null);
  const botRef = useRef<HTMLCanvasElement | null>(null);

  useEffect(() => {
    const c1Points: { x: number; y: number }[] = [];
    C1_DAYS.forEach((parts, d) => {
      parts.forEach((arr) => {
        arr.forEach(([f, y]) => c1Points.push({ x: DAY_BASES[d] + f, y }));
      });
    });
    const c2 = c2Points.map(([x, y]) => ({ x, y }));
    const topCfg = makeConfig(c2, TOP_TITLE, false, 11, 50);
    topCfg.plugins = [makeFramePlugin(false)];
    const botCfg = makeConfig(c1Points, BOTTOM_TITLE, true, 22, 75);
    botCfg.plugins = [makeFramePlugin(true)];
    const top = new Chart(topRef.current as HTMLCanvasElement, topCfg);
    const bot = new Chart(botRef.current as HTMLCanvasElement, botCfg);
    return () => {
      top.destroy();
      bot.destroy();
    };
  }, []);

  return (
    <div
      style={{
        position: "absolute",
        left: 0,
        top: 0,
        width: 732,
        height: 656,
        background: "#fff",
      }}
    >
      <canvas
        ref={topRef}
        width={732}
        height={320}
        style={{ position: "absolute", left: 0, top: 0, width: 732, height: 320 }}
      />
      <canvas
        ref={botRef}
        width={732}
        height={356}
        style={{ position: "absolute", left: 0, top: 300, width: 732, height: 356 }}
      />
    </div>
  );
}
